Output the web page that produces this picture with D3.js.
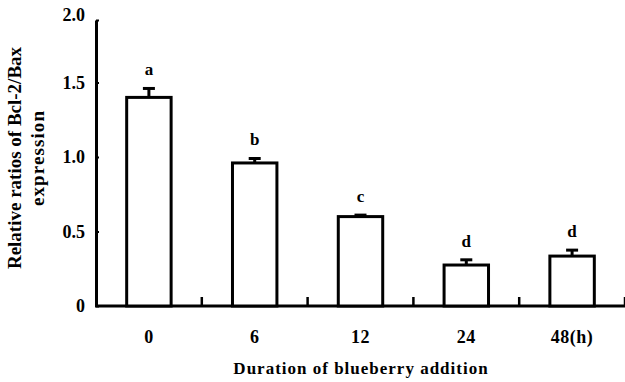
<!DOCTYPE html>
<html>
<head>
<meta charset="utf-8">
<script src="https://cdn.jsdelivr.net/npm/d3@7"></script>
<style>
  body { margin: 0; background: #fff; }
  text { font-family: "Liberation Serif", "Times New Roman", serif; fill: #000; }
</style>
</head>
<body>
<svg id="chart" width="625" height="382"></svg>
<script>
// data
const durations = ["0", "6", "12", "24", "48(h)"];
const ratios = [1.40, 0.96, 0.60, 0.275, 0.335];
const errors = [0.06, 0.03, 0.01, 0.035, 0.04];
const letters = ["a", "b", "c", "d", "d"];
const yTicks = [0, 0.5, 1.0, 1.5, 2.0];
const yTickLabels = ["0", "0.5", "1.0", "1.5", "2.0"];

const svg = d3.select("#chart");
const axisWidth = 3;

const x = d3.scaleBand()
    .domain(durations)
    .range([96, 625])
    .paddingInner(0.58)
    .paddingOuter(0.29);

// the original axis is slightly squeezed above 1.5
const y = d3.scaleLinear()
    .domain([0, 1.5, 2.0])
    .range([306, 82.5, 20]);

// y axis
const yAxis = svg.append("g")
    .attr("transform", "translate(96,0)")
    .call(d3.axisLeft(y)
        .tickValues(yTicks)
        .tickFormat((d, i) => yTickLabels[i])
        .tickSizeInner(-3)
        .tickSizeOuter(0)
        .tickPadding(11));
yAxis.select(".domain").attr("stroke-width", axisWidth);
yAxis.selectAll(".tick line").attr("stroke-width", 2);
yAxis.selectAll(".tick text")
    .attr("font-size", 18)
    .attr("font-weight", "bold")
    .attr("font-family", "Liberation Serif, serif")
    .attr("dy", (d) => d === 2 ? "0em" : "0.32em");

// x axis line + separator ticks
const xAxis = svg.append("g")
    .attr("transform", "translate(0,306)");
xAxis.append("line")
    .attr("x1", 95).attr("x2", 625)
    .attr("stroke", "#000").attr("stroke-width", axisWidth);
xAxis.selectAll(".sep")
    .data(durations)
    .enter()
    .append("line")
    .attr("class", "sep")
    .attr("x1", (d) => x(d) + x.bandwidth() + x.step() * x.paddingInner() / 2)
    .attr("x2", (d) => x(d) + x.bandwidth() + x.step() * x.paddingInner() / 2)
    .attr("y1", 0).attr("y2", -9)
    .attr("stroke", "#000").attr("stroke-width", 2.5);
xAxis.selectAll(".lbl")
    .data(durations)
    .enter()
    .append("text")
    .attr("class", "lbl")
    .attr("x", (d) => x(d) + x.bandwidth() / 2)
    .attr("y", 37)
    .attr("text-anchor", "middle")
    .attr("font-size", 18)
    .attr("font-weight", "bold")
    .attr("letter-spacing", 0.5)
    .text((d) => d);

// bars
const bars = svg.append("g");
bars.selectAll("rect")
    .data(ratios)
    .enter()
    .append("rect")
    .attr("x", (d, i) => x(durations[i]))
    .attr("y", (d) => y(d))
    .attr("width", x.bandwidth())
    .attr("height", (d) => y(0) - y(d))
    .attr("fill", "#fff")
    .attr("stroke", "#000")
    .attr("stroke-width", 3);

// error bars
const err = svg.append("g").attr("stroke", "#000").attr("stroke-width", 3);
err.selectAll(".stem")
    .data(ratios)
    .enter()
    .append("line")
    .attr("x1", (d, i) => x(durations[i]) + x.bandwidth() / 2)
    .attr("x2", (d, i) => x(durations[i]) + x.bandwidth() / 2)
    .attr("y1", (d) => y(d))
    .attr("y2", (d, i) => y(d + errors[i]));
err.selectAll(".cap")
    .data(ratios)
    .enter()
    .append("line")
    .attr("x1", (d, i) => x(durations[i]) + x.bandwidth() / 2 - 6)
    .attr("x2", (d, i) => x(durations[i]) + x.bandwidth() / 2 + 6)
    .attr("y1", (d, i) => y(d + errors[i]))
    .attr("y2", (d, i) => y(d + errors[i]));

// significance letters
svg.append("g").selectAll("text")
    .data(letters)
    .enter()
    .append("text")
    .attr("x", (d, i) => x(durations[i]) + x.bandwidth() / 2)
    .attr("y", (d, i) => y(ratios[i] + errors[i]) - 13)
    .attr("text-anchor", "middle")
    .attr("font-size", 17)
    .attr("font-weight", "bold")
    .text((d) => d);

// axis titles
svg.append("text")
    .attr("x", 361).attr("y", 374)
    .attr("text-anchor", "middle")
    .attr("font-size", 17)
    .attr("font-weight", "bold")
    .attr("letter-spacing", 1)
    .text("Duration of blueberry addition");

const yTitle = svg.append("text")
    .attr("transform", "translate(21,158) rotate(-90)")
    .attr("text-anchor", "middle")
    .attr("font-size", 19)
    .attr("font-weight", "bold");
yTitle.append("tspan").attr("x", 0).attr("y", 0).text("Relative ratios of Bcl-2/Bax");
yTitle.append("tspan").attr("x", 0).attr("y", 23)
    .attr("letter-spacing", 1.1)
    .text("expression");
</script>
</body>
</html>
